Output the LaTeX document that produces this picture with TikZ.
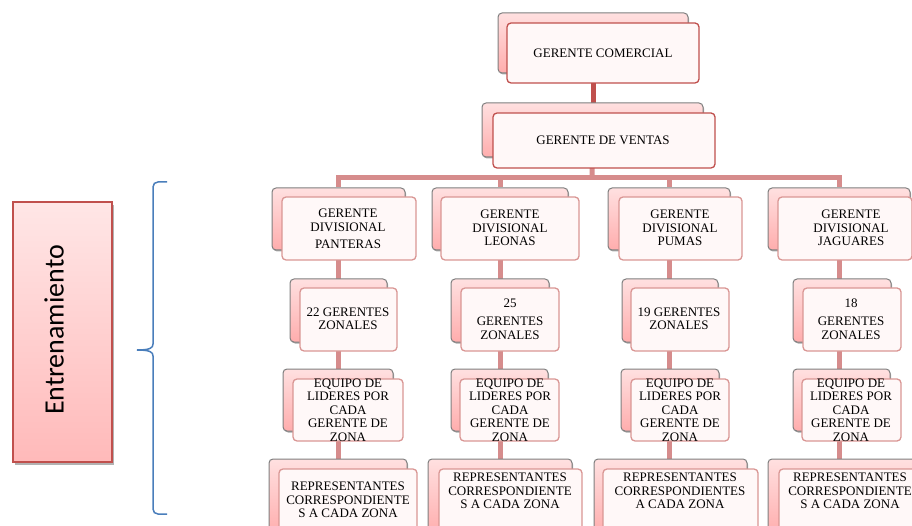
\documentclass[tikz,border=0pt]{standalone}
\usepackage{fontspec}
\setmainfont{Liberation Serif}
\newfontfamily\calibfont{Carlito}
\usetikzlibrary{shadows,fit,backgrounds}
\definecolor{redB}{HTML}{C0504D}
\definecolor{pinkB}{HTML}{D99694}
\definecolor{lineP}{HTML}{D68C8C}
\definecolor{grayB}{HTML}{7F7F7F}
\definecolor{braceB}{HTML}{4A7EBB}
\definecolor{pinkTop}{HTML}{FFE0E0}
\definecolor{pinkBot}{HTML}{FFADAD}
\definecolor{frontFill}{HTML}{FFF8F8}
\tikzset{
  backbox/.style={draw=grayB, line width=1pt, rounded corners=4pt, top color=pinkTop, bottom color=pinkBot, inner sep=0pt,
    drop shadow={shadow xshift=1pt, shadow yshift=-1.5pt, opacity=0.35, fill=black}},
  frontbox/.style={draw=pinkB, line width=1.3pt, rounded corners=4pt, fill=frontFill, inner sep=0pt},
  topfront/.style={frontbox, draw=redB},
  txt/.style={align=center, font=\fontsize{13}{13.5}\selectfont, inner sep=0pt},
  connA/.style={draw=redB, line width=5pt},
  connB/.style={draw=lineP, line width=5pt},
  entbox/.style={draw=redB, line width=1.2pt, top color=pinkTop!80!white, bottom color=pinkBot!90!red!70!white, inner sep=0pt,
    drop shadow={shadow xshift=2pt, shadow yshift=-3pt, opacity=0.3, fill=black}},
  bracestyle/.style={draw=braceB, line width=1.5pt}
}
\newcommand\twobox[4]{%
  \node[backbox, fit={#2}] (#1B) {};
  \node[#4, fit={#3}] (#1) {};}
\begin{document}
\begin{tikzpicture}[x=1pt,y=-1pt]
\useasboundingbox (0,0) rectangle (912,526);
\clip (0,0) rectangle (912,526);
% left part
\node[entbox, fit={(13,202) (112,462)}] (ent) {};
\node[rotate=90, inner sep=0pt, font=\calibfont\fontsize{28}{30}\selectfont] (entt) at (54,330) {Entrenamiento};
\draw[bracestyle] (167,182) -- (158,182) .. controls (155,182) and (153,184) .. (153,187) -- (153,344)
  .. controls (153,348) and (150,350) .. (137,350) .. controls (150,350) and (153,352) .. (153,356)
  -- (153,509) .. controls (153,512) and (155,514) .. (158,514) -- (167,514);
% boxes
\twobox{com}{(498,13) (688,73)}{(507,23) (699,83)}{topfront}
\twobox{ven}{(482,103) (703,157)}{(493,113) (715,168)}{topfront}
\twobox{dP}{(272,188) (405,250)}{(282,197) (416,260)}{frontbox}
\twobox{dL}{(432,188) (568,250)}{(441,197) (579,260)}{frontbox}
\twobox{dU}{(608,188) (730,250)}{(619,197) (742,260)}{frontbox}
\twobox{dJ}{(768,188) (910,250)}{(778,197) (912,260)}{frontbox}
\twobox{zP}{(290,279) (387,342)}{(300,288) (397,351)}{frontbox}
\twobox{zL}{(451,279) (549,342)}{(461,288) (559,351)}{frontbox}
\twobox{zU}{(622,279) (718,342)}{(631,288) (729,351)}{frontbox}
\twobox{zJ}{(793,279) (891,342)}{(803,288) (901,351)}{frontbox}
\twobox{eP}{(283,369) (393,431)}{(293,379) (403,441)}{frontbox}
\twobox{eL}{(451,369) (548,431)}{(460,379) (559,441)}{frontbox}
\twobox{eU}{(621,369) (719,431)}{(631,379) (729,441)}{frontbox}
\twobox{eJ}{(793,369) (890,431)}{(802,379) (901,441)}{frontbox}
\twobox{rP}{(269,459) (407,535)}{(279,469) (417,540)}{frontbox}
\twobox{rL}{(428,459) (572,535)}{(439,469) (582,540)}{frontbox}
\twobox{rU}{(594,459) (747,535)}{(603,469) (758,540)}{frontbox}
\twobox{rJ}{(768,459) (925,535)}{(779,469) (935,540)}{frontbox}
% texts
\node[txt] (comT) at (603,53) {GERENTE COMERCIAL};
\node[txt] (venT) at (603,140) {GERENTE DE VENTAS};
\node[txt] (dPT) at (348,229) {GERENTE\\DIVISIONAL\\[4pt]PANTERAS};
\node[txt] (dLT) at (510,228) {GERENTE\\DIVISIONAL\\LEONAS};
\node[txt] (dUT) at (680,228) {GERENTE\\DIVISIONAL\\PUMAS};
\node[txt] (dJT) at (851,228) {GERENTE\\DIVISIONAL\\JAGUARES};
\node[txt] (zPT) at (348,319) {22 GERENTES\\ZONALES};
\node[txt] (zLT) at (510,319) {25\\[5pt]GERENTES\\ZONALES};
\node[txt] (zUT) at (679,319) {19 GERENTES\\ZONALES};
\node[txt] (zJT) at (851,319) {18\\[5pt]GERENTES\\ZONALES};
\node[txt] (ePT) at (348,410) {EQUIPO DE\\LIDERES POR\\CADA\\GERENTE DE\\ZONA};
\node[txt] (eLT) at (510,410) {EQUIPO DE\\LIDERES POR\\CADA\\GERENTE DE\\ZONA};
\node[txt] (eUT) at (680,410) {EQUIPO DE\\LIDERES POR\\CADA\\GERENTE DE\\ZONA};
\node[txt] (eJT) at (851,410) {EQUIPO DE\\LIDERES POR\\CADA\\GERENTE DE\\ZONA};
\node[txt] (rPT) at (348,500) {REPRESENTANTES\\CORRESPONDIENTE\\S A CADA ZONA};
\node[txt] (rLT) at (510,491) {REPRESENTANTES\\CORRESPONDIENTE\\S A CADA ZONA};
\node[txt] (rUT) at (680,491) {REPRESENTANTES\\CORRESPONDIENTES\\A CADA ZONA};
\node[txt] (rJT) at (850,491) {REPRESENTANTES\\CORRESPONDIENTE\\S A CADA ZONA};
% connectors
\coordinate (bar) at (592,178);
\begin{scope}[on background layer]
\draw[connA] (comB) -- (comB |- venB);
\draw[connB] (venB) -- (bar);
\draw[connB] (bar) -| (dPB);
\draw[connB] (bar) -| (dLB);
\draw[connB] (bar) -| (dUB);
\draw[connB] (bar) -| (dJB);
\draw[connB] (dPB) -- (dPB |- rPB);
\draw[connB] (dLB) -- (dLB |- rLB);
\draw[connB] (dUB) -- (dUB |- rUB);
\draw[connB] (dJB) -- (dJB |- rJB);
\end{scope}
\end{tikzpicture}
\end{document}
